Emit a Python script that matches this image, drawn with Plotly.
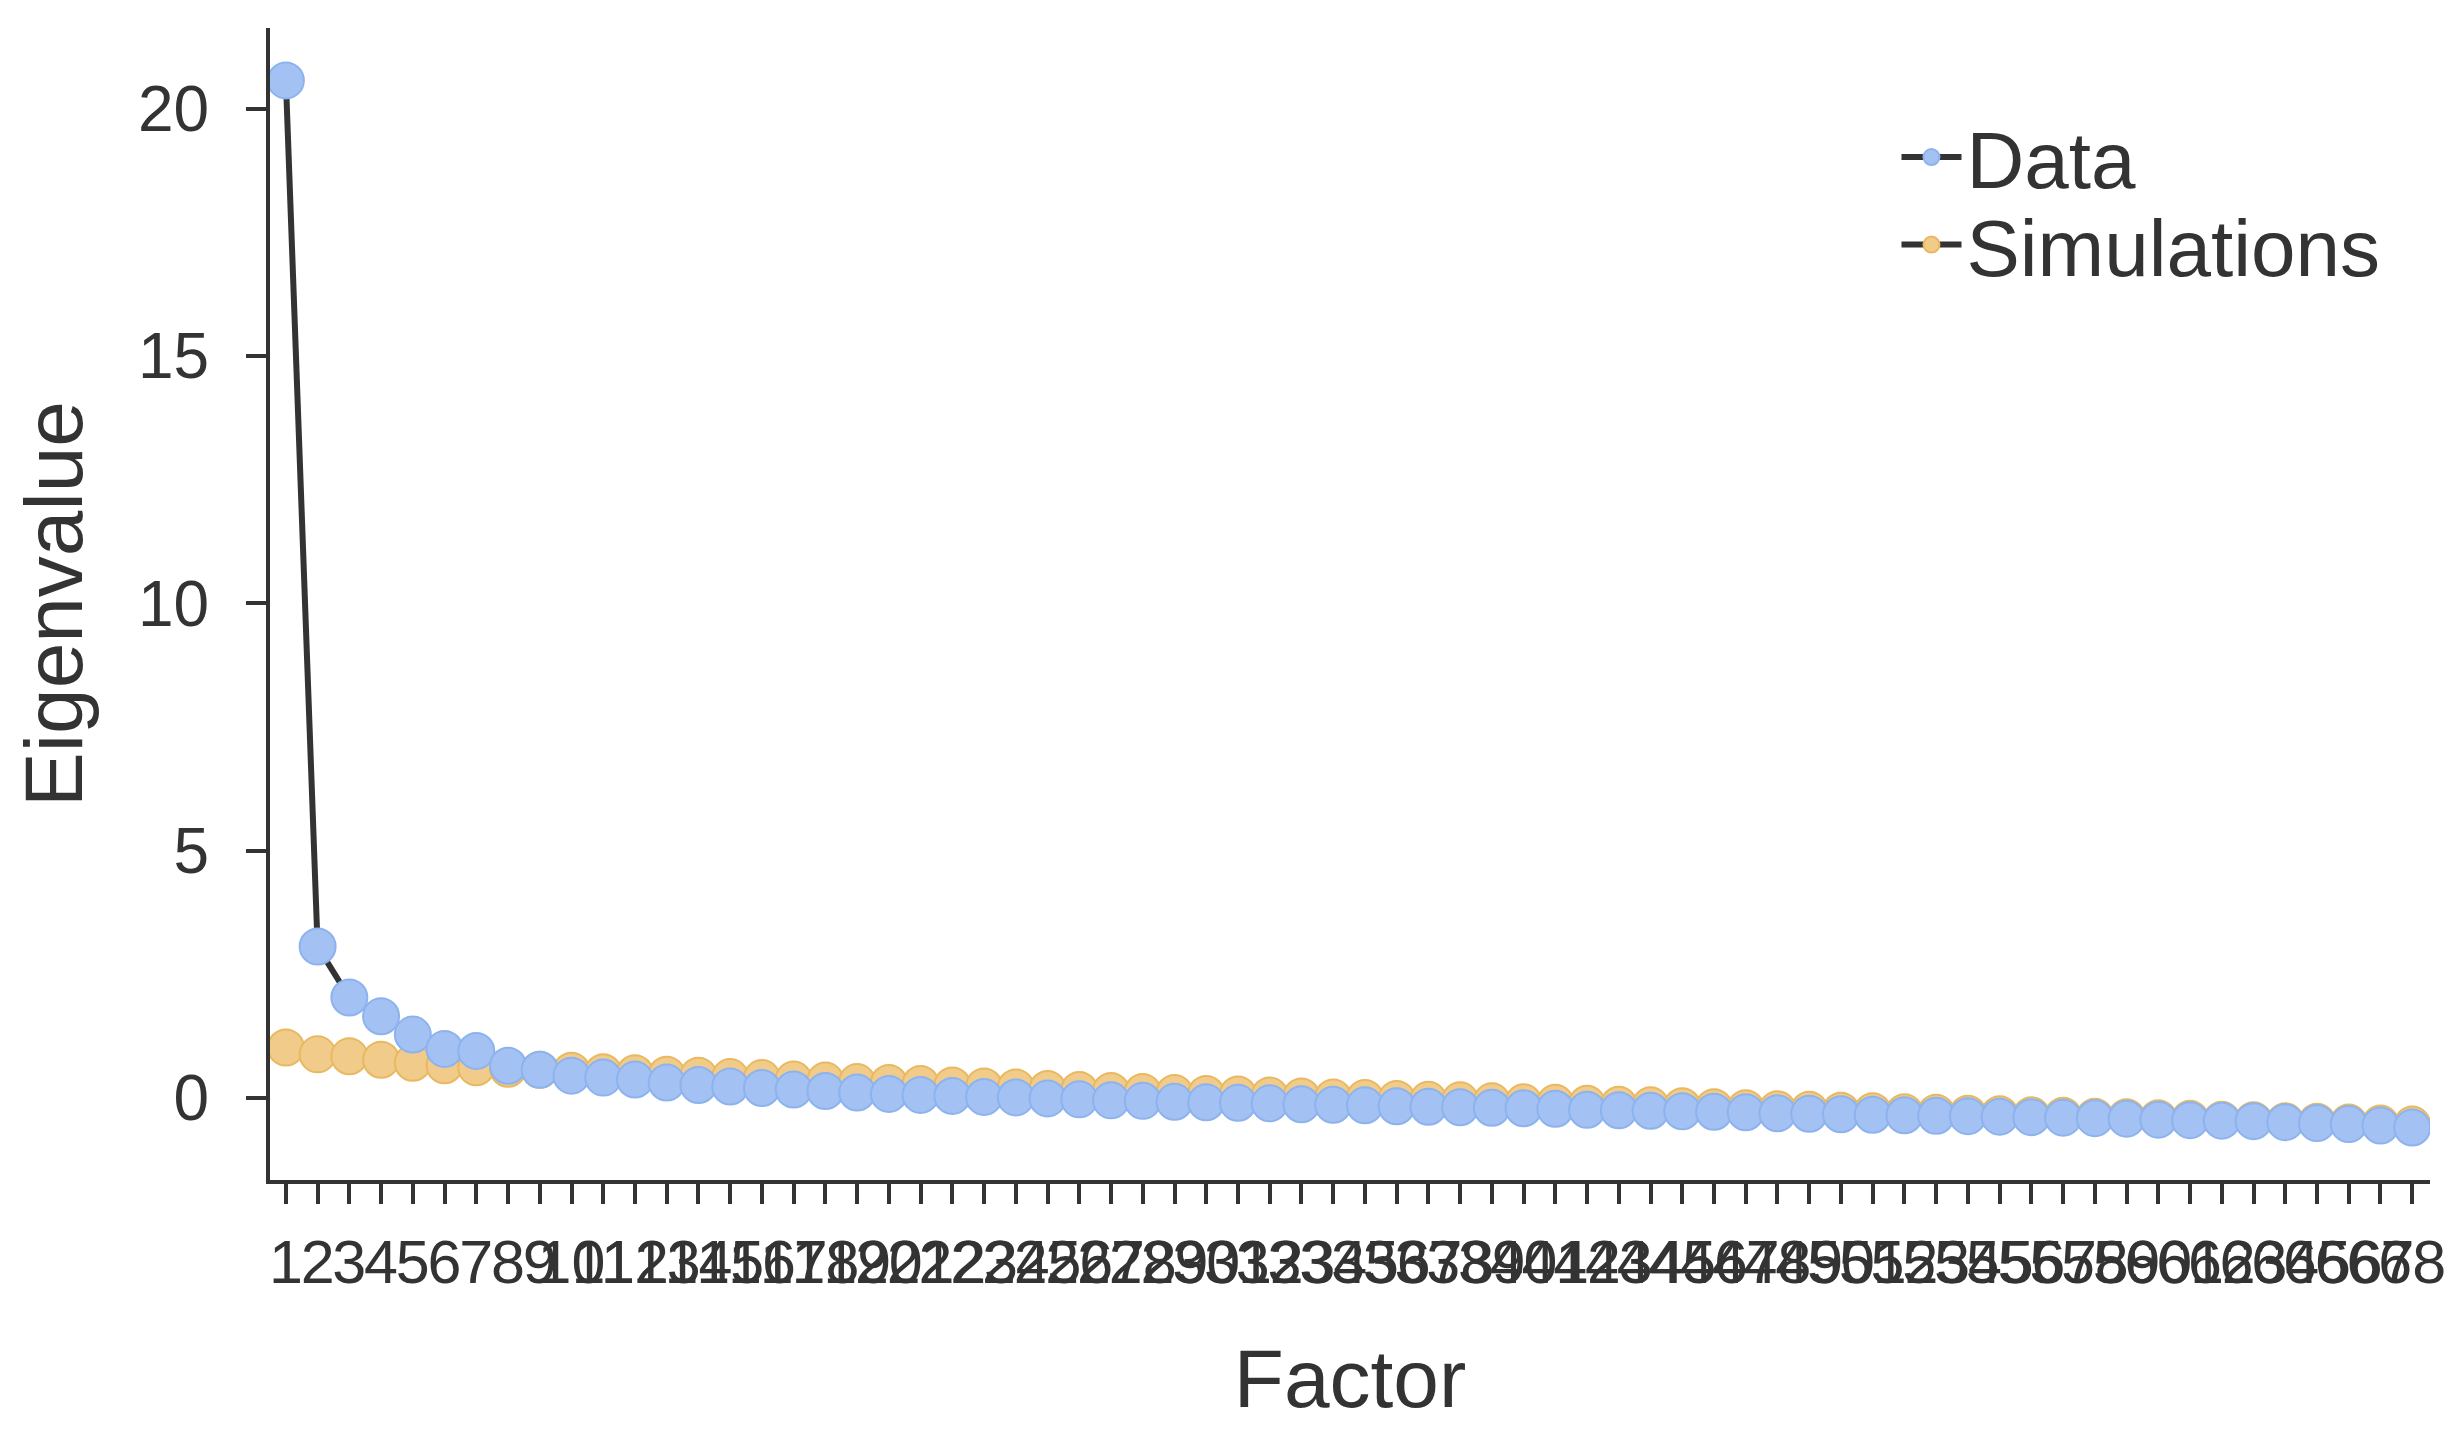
import plotly.graph_objects as go

factors = list(range(1, 69))
tick_labels = [str(f) for f in factors]

data_eigen = [20.57, 3.06, 2.03, 1.65, 1.28, 0.99, 0.95, 0.65, 0.57, 0.45,
              0.41, 0.37, 0.31, 0.26, 0.23, 0.20, 0.17, 0.14, 0.11, 0.08,
              0.06, 0.04, 0.02, 0.01, -0.01, -0.03, -0.05, -0.06, -0.08, -0.09,
              -0.10, -0.11, -0.13, -0.14, -0.15, -0.17, -0.18, -0.19, -0.20, -0.21,
              -0.22, -0.24, -0.25, -0.26, -0.27, -0.28, -0.29, -0.31, -0.32, -0.33,
              -0.34, -0.35, -0.36, -0.37, -0.38, -0.39, -0.40, -0.41, -0.42, -0.44,
              -0.45, -0.46, -0.47, -0.49, -0.51, -0.53, -0.56, -0.60]

sim_eigen = [1.02, 0.88, 0.84, 0.77, 0.71, 0.66, 0.62, 0.59, 0.57, 0.55,
             0.52, 0.50, 0.47, 0.45, 0.42, 0.40, 0.37, 0.35, 0.32, 0.30,
             0.28, 0.25, 0.23, 0.21, 0.18, 0.16, 0.14, 0.12, 0.10, 0.08,
             0.07, 0.05, 0.03, 0.01, 0.00, -0.02, -0.04, -0.05, -0.07, -0.09,
             -0.10, -0.12, -0.14, -0.15, -0.17, -0.19, -0.21, -0.23, -0.24, -0.26,
             -0.27, -0.29, -0.30, -0.32, -0.33, -0.35, -0.36, -0.38, -0.39, -0.41,
             -0.42, -0.44, -0.45, -0.47, -0.48, -0.50, -0.52, -0.54]

y_ticks = [0, 5, 10, 15, 20]

FONT = "Liberation Sans, Arial, sans-serif"
TXT = "#333333"

fig = go.Figure()
fig.add_trace(go.Scatter(
    x=factors, y=sim_eigen, name="Simulations", mode="lines+markers",
    line=dict(color="#333333", width=6),
    marker=dict(size=36, color="#F1CB8A", line=dict(color="#E9B962", width=2)),
    legend="legend2",
))
fig.add_trace(go.Scatter(
    x=factors, y=data_eigen, name="Data", mode="lines+markers",
    line=dict(color="#333333", width=6),
    marker=dict(size=36, color="#A3C1F2", line=dict(color="#8DB3EE", width=2)),
    legend="legend",
))

leg_common = dict(
    xanchor="left", yanchor="middle",
    font=dict(size=80, family=FONT, color=TXT),
    itemwidth=60, bgcolor="rgba(0,0,0,0)",
)

fig.update_layout(
    width=2451, height=1434,
    paper_bgcolor="white", plot_bgcolor="white",
    margin=dict(l=262, r=29, t=20, b=262),
    font=dict(family=FONT, color=TXT),
    showlegend=True,
    legend=dict(x=0.753, y=0.888, **leg_common),
    legend2=dict(x=0.753, y=0.812, **leg_common),
    xaxis=dict(
        range=[0.5, 68.56], tickmode="array", tickvals=factors, ticktext=tick_labels,
        tickangle=0, ticks="outside", ticklen=20, tickwidth=4, tickcolor="#333333",
        showline=True, linecolor="#333333", linewidth=4, showgrid=False, zeroline=False,
        tickfont=dict(size=61, family=FONT, color=TXT), ticklabelstandoff=6,
        title=dict(text="Factor", font=dict(size=82, family=FONT, color=TXT), standoff=55),
    ),
    yaxis=dict(
        range=[-1.66, 21.63], tickmode="array", tickvals=y_ticks,
        ticks="outside", ticklen=20, tickwidth=4, tickcolor="#333333",
        showline=True, linecolor="#333333", linewidth=4, showgrid=False, zeroline=False,
        tickfont=dict(size=64, family=FONT, color=TXT), ticklabelstandoff=24,
        title=dict(text="Eigenvalue", font=dict(size=82, family=FONT, color=TXT), standoff=38),
    ),
)

fig.write_html("out.html")
